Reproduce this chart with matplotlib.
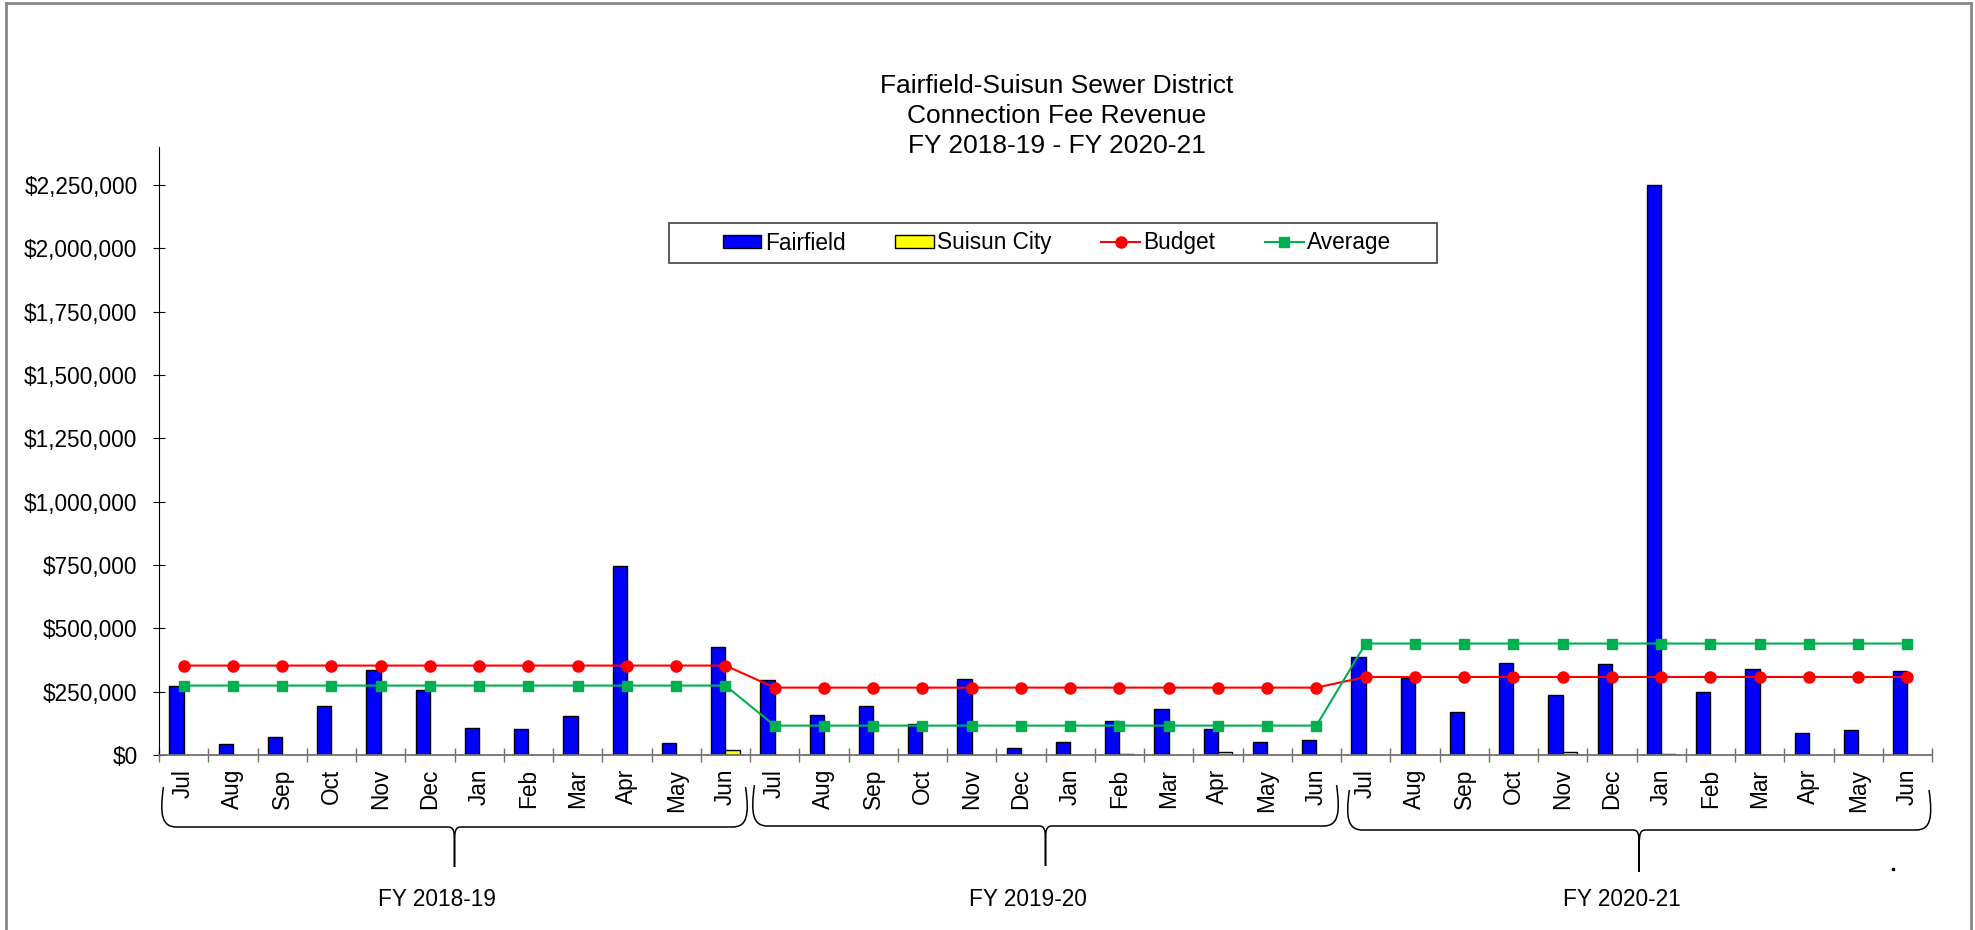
import numpy as np
import matplotlib.pyplot as plt
from matplotlib.patches import Patch, Rectangle, PathPatch
from matplotlib.lines import Line2D
from matplotlib.path import Path
from matplotlib import transforms
from matplotlib.ticker import FuncFormatter

plt.rcParams['font.family'] = ['Liberation Sans', 'DejaVu Sans']

# data
months = ['Jul', 'Aug', 'Sep', 'Oct', 'Nov', 'Dec', 'Jan', 'Feb', 'Mar', 'Apr', 'May', 'Jun']
fiscal_years = ['FY 2018-19', 'FY 2019-20', 'FY 2020-21']

fairfield = [274000, 45000, 70000, 192000, 336000, 258000, 108000, 101000, 153000, 748000, 49000, 428000,
             295000, 158000, 195000, 124000, 301000, 28000, 53000, 134000, 183000, 101000, 50000, 58000,
             386000, 302000, 170000, 364000, 238000, 359000, 2249000, 249000, 341000, 87000, 100000, 333000]
suisun = [0, 0, 0, 0, 0, 0, 0, 0, 0, 0, 0, 20000,
          0, 0, 0, 0, 0, 0, 0, 5000, 0, 12000, 0, 0,
          0, 0, 0, 0, 11000, 0, 4000, 0, 0, 0, 0, 0]
budget = [353000] * 12 + [266000] * 12 + [308000] * 12
average = [274000] * 12 + [116000] * 12 + [440000] * 12

W, H = 1975, 930
fig = plt.figure(figsize=(W / 100, H / 100), dpi=100)
ax = fig.add_axes([159 / W, 1 - 755 / H, (1932 - 159) / W, (755 - 147) / H])

x = np.arange(len(fairfield))
bw = 0.29
ff = np.array(fairfield)
sc = np.array(suisun)
m = ff > 0
ax.bar(x[m] - bw / 2, ff[m], bw, color='#0000FF', edgecolor='black', linewidth=1.0, zorder=2)
m = sc > 0
ax.bar(x[m] + bw / 2, sc[m], bw, color='#FFFF00', edgecolor='black', linewidth=1.0, zorder=2)

ax.plot(x, budget, color='#FF0000', lw=1.5, marker='o', ms=8, zorder=3)
ax.plot(x, average, color='#00B050', lw=1.5, marker='s', ms=7.5, zorder=3)

ax.set_xlim(-0.5, len(x) - 0.5)
ax.set_ylim(0, 2400000)
ax.set_yticks(np.arange(0, 2250001, 250000))
ax.yaxis.set_major_formatter(FuncFormatter(lambda v, p: f'${v:,.0f}'))
ax.tick_params(axis='y', direction='inout', length=9, width=0.8, pad=11, labelsize=16.3)

ax.set_xticks(x)
ax.set_xticklabels(months * 3, rotation=90, fontsize=16.3)
ax.set_xticks(np.arange(-0.5, len(x), 1), minor=True)
ax.tick_params(axis='x', which='major', length=0, pad=10)
ax.tick_params(axis='x', which='minor', direction='inout', length=10, width=1.0, color='#707070')

for s in ['top', 'right']:
    ax.spines[s].set_visible(False)
ax.spines['left'].set_linewidth(0.8)
ax.spines['bottom'].set_color('#707070')
ax.spines['bottom'].set_linewidth(1.3)

# curly braces under each fiscal year
trans = transforms.blended_transform_factory(ax.transData, ax.transAxes)
ah = 755 - 147
brace_x = [(-0.44, 11.44), (11.56, 23.44), (23.64, 35.47)]
brace_y = [(32, 72, 112), (30, 71, 111), (35, 75, 117)]
for (x0, x1), (yt, yh, yp) in zip(brace_x, brace_y):
    xm = (x0 + x1) / 2
    f = lambda px: -px / ah
    verts = [(x0 + 0.03, f(yt)), (x0 - 0.05, f(yh - 12)), (x0, f(yh)), (x0 + 0.3, f(yh)),
             (xm - 0.13, f(yh)),
             (xm - 0.02, f(yh)), (xm, f(yh + 4)), (xm, f(yh + 15)),
             (xm, f(yp)),
             (xm, f(yh + 15)),
             (xm, f(yh + 4)), (xm + 0.02, f(yh)), (xm + 0.13, f(yh)),
             (x1 - 0.3, f(yh)),
             (x1, f(yh)), (x1 + 0.05, f(yh - 12)), (x1 - 0.03, f(yt))]
    codes = [Path.MOVETO, Path.CURVE4, Path.CURVE4, Path.CURVE4,
             Path.LINETO,
             Path.CURVE4, Path.CURVE4, Path.CURVE4,
             Path.LINETO, Path.LINETO,
             Path.CURVE4, Path.CURVE4, Path.CURVE4,
             Path.LINETO,
             Path.CURVE4, Path.CURVE4, Path.CURVE4]
    ax.add_patch(PathPatch(Path(verts, codes), fill=False, lw=1.1, ec='black',
                           transform=trans, clip_on=False))

# group labels sit a little left of the brace tips
for i, fy in enumerate(fiscal_years):
    xm = sum(brace_x[i]) / 2 - 0.35
    ax.text(xm, -145 / ah, fy, transform=trans, ha='center', va='center', fontsize=16.3)

# title
title_lines = ['Fairfield-Suisun Sewer District', 'Connection Fee Revenue', 'FY 2018-19 - FY 2020-21']
for line, yp in zip(title_lines, [86, 116, 146]):
    fig.text(1057 / W, 1 - yp / H, line, ha='center', va='center', fontsize=19)

# legend
handles = [Patch(facecolor='#0000FF', edgecolor='black', lw=1.0),
           Patch(facecolor='#FFFF00', edgecolor='black', lw=1.0),
           Line2D([], [], color='#FF0000', lw=1.5, marker='o', ms=8),
           Line2D([], [], color='#00B050', lw=1.5, marker='s', ms=7.5)]
fig.legend(handles, ['Fairfield', 'Suisun City', 'Budget', 'Average'], loc='center',
           bbox_to_anchor=(1057 / W, 1 - 243 / H), ncol=4, frameon=False, numpoints=1,
           handlelength=1.7, handleheight=0.55, handletextpad=0.15, columnspacing=2.2, fontsize=16.3)
fig.add_artist(Rectangle((669 / W, 1 - 263 / H), (1437 - 669) / W, 40 / H, transform=fig.transFigure,
                         fill=False, ec='#404040', lw=1.2))

# outer chart border and stray dot
for xs, ys in [([5.5, 5.5], [H, 3]), ([5.5, 1971], [3, 3]), ([1971, 1971], [3, H])]:
    fig.add_artist(Line2D([v / W for v in xs], [1 - v / H for v in ys], color='#888888', lw=2,
                          transform=fig.transFigure))
fig.add_artist(Line2D([1893 / W], [1 - 869 / H], marker='s', ms=2, color='black', lw=0,
                      transform=fig.transFigure))

plt.savefig('out.png')
